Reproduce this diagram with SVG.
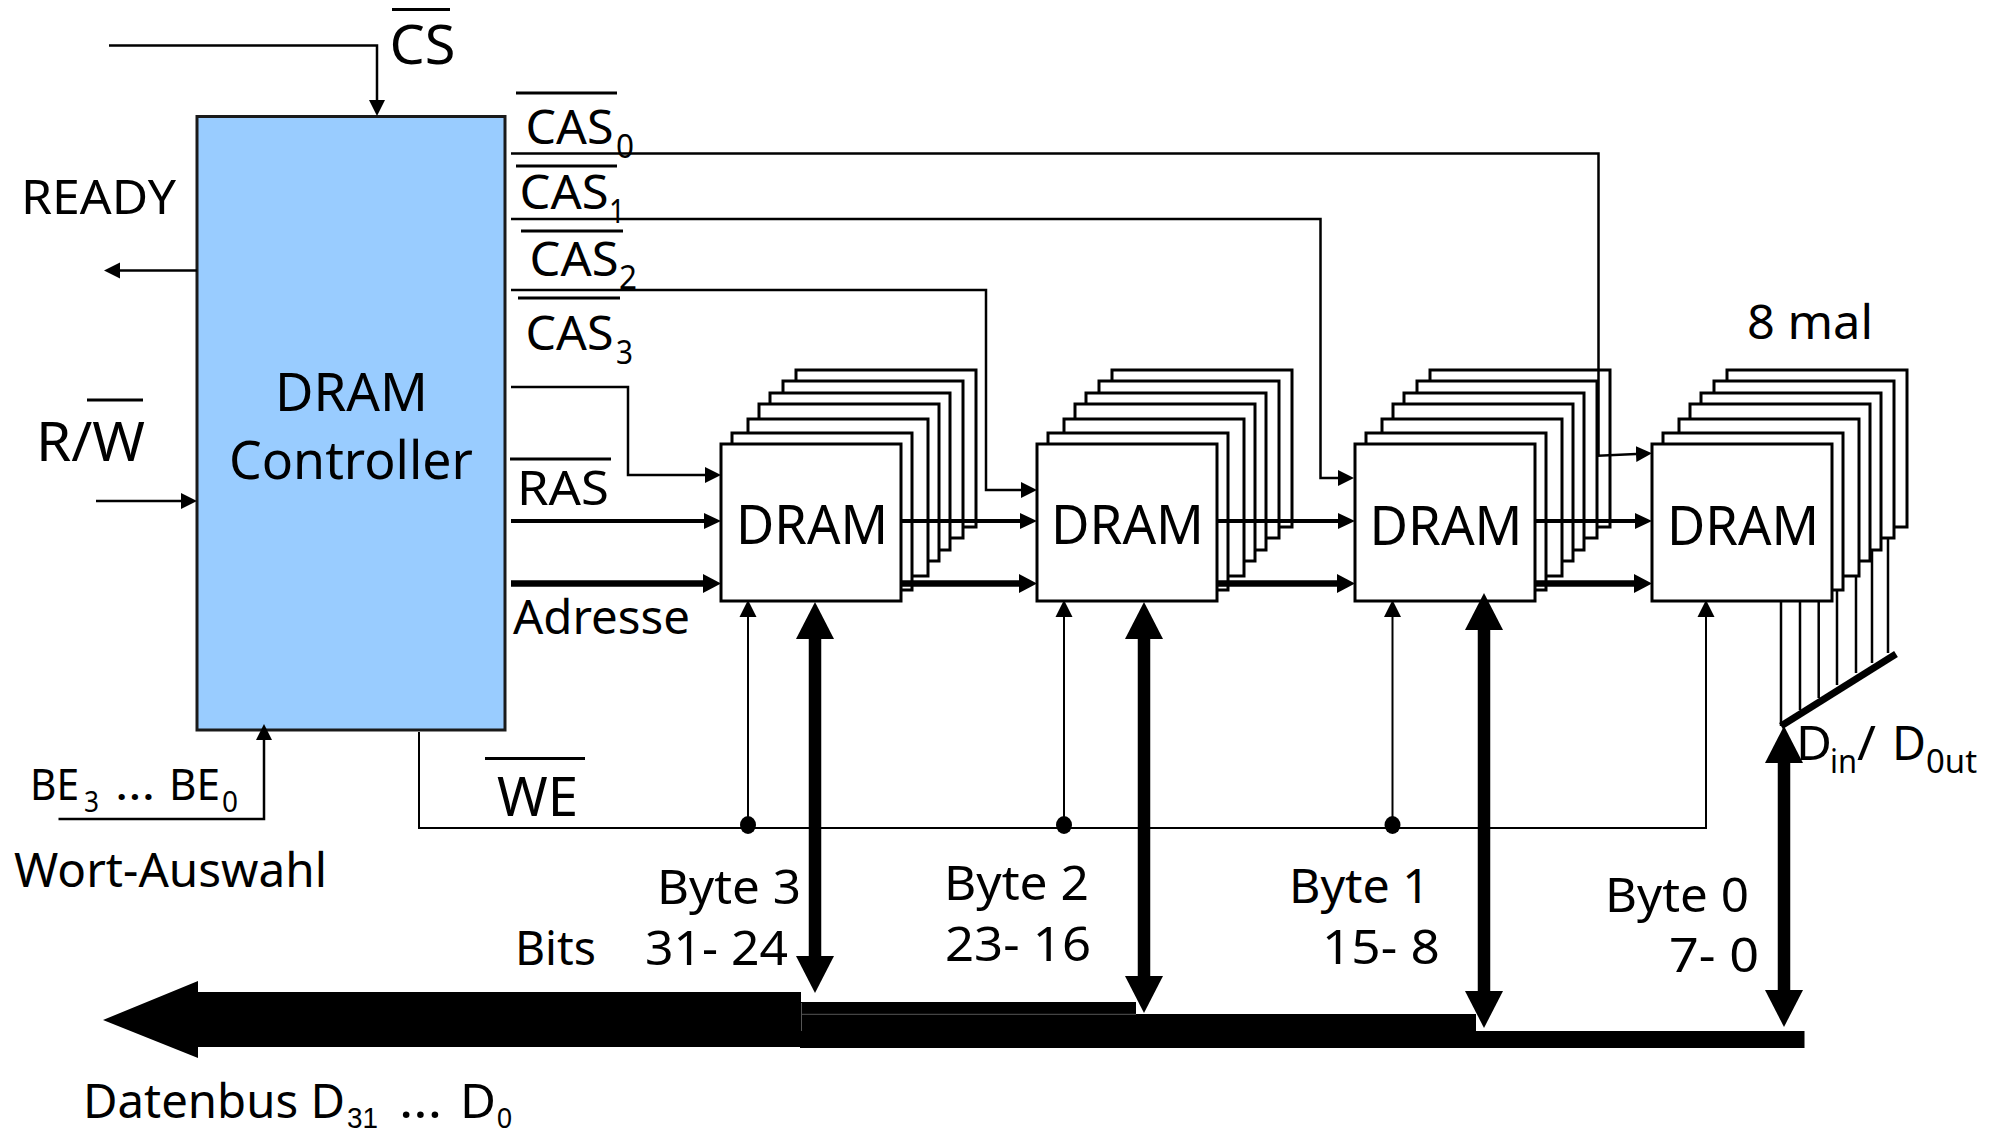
<svg xmlns="http://www.w3.org/2000/svg" width="1998" height="1134" viewBox="0 0 1998 1134">
<style>
text{font-family:"Noto Sans","Open Sans","Liberation Sans",sans-serif;fill:#000;font-size:47px}
.c{font-size:53px}.d{font-size:55px}.s{font-size:33px}.b{font-size:43px}.bs{font-size:29px}
.e{font-family:"Liberation Sans",sans-serif;font-size:30px}
rect.m{fill:#fff;stroke:#000;stroke-width:3}
#ctrl rect{fill:#99ccff;stroke:#1a1a1a;stroke-width:3}
.t,.n,.h,.w{fill:none;stroke:#000}
.t{stroke-width:2.5}.n{stroke-width:2}.h{stroke-width:4}.w{stroke-width:6.5}
.th{stroke-width:12.5;stroke:#000;fill:none}
.a{marker-end:url(#ar)}.ah{marker-end:url(#arh)}.aw{marker-end:url(#arw)}
.dbl{marker-start:url(#big);marker-end:url(#big)}
.ov{stroke:#000;stroke-width:3;fill:none}
</style>
<defs>
<marker id="ar" markerUnits="userSpaceOnUse" markerWidth="18" markerHeight="18" refX="0" refY="8" orient="auto"><path d="M0 0L16 8L0 16Z"/></marker>
<marker id="arh" markerUnits="userSpaceOnUse" markerWidth="18" markerHeight="18" refX="0" refY="8" orient="auto"><path d="M0 0L17 8L0 16Z"/></marker>
<marker id="arw" markerUnits="userSpaceOnUse" markerWidth="20" markerHeight="20" refX="0" refY="9.5" orient="auto"><path d="M0 0L18 9.5L0 19Z"/></marker>
<marker id="big" markerUnits="userSpaceOnUse" markerWidth="40" markerHeight="40" refX="0" refY="19" orient="auto-start-reverse"><path d="M0 0L37 19L0 38Z"/></marker>
<g id="stk">
<rect class="m" x="75" y="-74" width="180" height="157"/>
<rect class="m" x="62" y="-63" width="180" height="157"/>
<rect class="m" x="49" y="-51" width="180" height="157"/>
<rect class="m" x="38" y="-40" width="180" height="157"/>
<rect class="m" x="27" y="-25" width="180" height="157"/>
<rect class="m" x="11" y="-11" width="180" height="157"/>
<rect class="m" x="0" y="0" width="180" height="157"/>
</g>
</defs>
<rect width="1998" height="1134" fill="#fff"/>

<g id="ctrl">
<rect x="197" y="116.500" width="308" height="613.500"/>
<text class="c" x="275" y="411" textLength="153" lengthAdjust="spacingAndGlyphs">DRAM</text>
<text class="c" x="229" y="478.500" textLength="244" lengthAdjust="spacingAndGlyphs">Controller</text>
</g>
<g id="dram3"><use href="#stk" x="721" y="444"/><text class="d" x="736" y="544" textLength="152" lengthAdjust="spacingAndGlyphs">DRAM</text></g>
<g id="dram2"><use href="#stk" x="1037" y="444"/><text class="d" x="1051" y="544" textLength="153" lengthAdjust="spacingAndGlyphs">DRAM</text></g>
<g id="dram1"><use href="#stk" x="1355" y="444"/><text class="d" x="1369.500" y="545" textLength="153" lengthAdjust="spacingAndGlyphs">DRAM</text></g>
<g id="dram0"><use href="#stk" x="1652" y="444"/><text class="d" x="1667" y="545" textLength="152" lengthAdjust="spacingAndGlyphs">DRAM</text></g>

<g id="connectors">
<path class="t a" d="M109 45.500H377V100"/>
<path class="t a" d="M197 270.500H120"/>
<path class="t a" d="M96 501H181"/>
<path class="t a" d="M58.500 819H264V740"/>
<path class="t a" d="M511 153.600H1598.500V455.700L1636 454"/>
<path class="t a" d="M511 219H1320.500V478H1338"/>
<path class="t a" d="M511 290H986V490H1021"/>
<path class="t a" d="M511 387H628V475H705"/>
<path class="h ah" d="M511 521H704"/>
<path class="h ah" d="M901 521H1020"/>
<path class="h ah" d="M1217 521H1338"/>
<path class="h ah" d="M1535 521H1635"/>
<path class="w aw" d="M511 583.500H703"/>
<path class="w aw" d="M901 583.500H1019"/>
<path class="w aw" d="M1217 583.500H1337"/>
<path class="w aw" d="M1535 583.500H1634"/>
<path class="n" d="M419 732V828H1706V617"/>
<path class="n" d="M748 828V617"/>
<path class="n" d="M1064 828V617"/>
<path class="n" d="M1392.500 828V617"/>
<path d="M739.500 617L748 600L756.500 617Z"/>
<path d="M1055.500 617L1064 600L1072.500 617Z"/>
<path d="M1384 617L1392.500 600L1401 617Z"/>
<path d="M1697.500 617L1706 600L1714.500 617Z"/>
<ellipse cx="748" cy="825" rx="8" ry="9"/>
<ellipse cx="1064" cy="825" rx="8" ry="9"/>
<ellipse cx="1392.500" cy="825" rx="8" ry="9"/>
<path class="th dbl" d="M815 639V956"/>
<path class="th dbl" d="M1144 639V976"/>
<path class="th dbl" d="M1484 630V991"/>
<path class="th dbl" d="M1784 763V990"/>
<path class="t" d="M1781 601V726M1800 601V710M1818.700 601V698M1837 590V685M1856 576V673M1872 550V663M1888 539V653"/>
<path d="M1781 726L1896 654" stroke="#000" stroke-width="7" fill="none"/>
<path d="M103 1020L198 981V992H801V1047H198V1058Z"/>
<rect x="801" y="1002" width="335" height="12.500"/>
<rect x="801" y="1014" width="675" height="18"/>
<rect x="800" y="1031" width="1004.500" height="17"/>
<path d="M801.500 1003V1031M802 1014.300H1136" stroke="#555" stroke-width="1" fill="none"/>
</g>

<g id="labels">
<path class="ov" d="M392 9.500H450M516 93H617M516 166H617M521 231H623M518 298H620M87 400H143M510 459H611M485 758.500H585"/>
<text class="d" x="389.500" y="64" textLength="66" lengthAdjust="spacingAndGlyphs">CS</text>
<text x="21" y="214" textLength="155" lengthAdjust="spacingAndGlyphs">READY</text>
<text class="d" x="36" y="461" textLength="109" lengthAdjust="spacingAndGlyphs">R/W</text>
<text x="525.500" y="144" textLength="88" lengthAdjust="spacingAndGlyphs">CAS</text><text class="s" x="616" y="158" textLength="18" lengthAdjust="spacingAndGlyphs">0</text>
<text x="519.500" y="209" textLength="89" lengthAdjust="spacingAndGlyphs">CAS</text><text class="s" x="609" y="223" textLength="16" lengthAdjust="spacingAndGlyphs">1</text>
<text x="529.500" y="276" textLength="89" lengthAdjust="spacingAndGlyphs">CAS</text><text class="s" x="619" y="289" textLength="18" lengthAdjust="spacingAndGlyphs">2</text>
<text x="525.500" y="350" textLength="88" lengthAdjust="spacingAndGlyphs">CAS</text><text class="s" x="616" y="364" textLength="17" lengthAdjust="spacingAndGlyphs">3</text>
<text x="517" y="505" textLength="92" lengthAdjust="spacingAndGlyphs">RAS</text>
<text x="513" y="634" textLength="177" lengthAdjust="spacingAndGlyphs">Adresse</text>
<text class="d" x="497" y="816" textLength="81" lengthAdjust="spacingAndGlyphs">WE</text>
<text x="1747" y="339" textLength="126" lengthAdjust="spacingAndGlyphs">8 mal</text>
<text x="1796" y="760" textLength="36" lengthAdjust="spacingAndGlyphs">D</text><text class="s" x="1830" y="773" textLength="27" lengthAdjust="spacingAndGlyphs">in</text><text x="1857" y="760" textLength="19" lengthAdjust="spacingAndGlyphs">/</text><text x="1892" y="760" textLength="34" lengthAdjust="spacingAndGlyphs">D</text><text class="s" x="1926" y="773" textLength="51" lengthAdjust="spacingAndGlyphs">0ut</text>
<text class="b" x="30" y="800" textLength="49" lengthAdjust="spacingAndGlyphs">BE</text><text class="bs" x="84" y="812" textLength="15" lengthAdjust="spacingAndGlyphs">3</text><text class="b" x="115" y="800" textLength="40" lengthAdjust="spacingAndGlyphs">...</text><text class="b" x="169" y="800" textLength="51" lengthAdjust="spacingAndGlyphs">BE</text><text class="bs" x="222" y="812" textLength="16" lengthAdjust="spacingAndGlyphs">0</text>
<text x="14" y="887" textLength="313" lengthAdjust="spacingAndGlyphs">Wort-Auswahl</text>
<text x="657" y="904" textLength="144" lengthAdjust="spacingAndGlyphs">Byte 3</text>
<text x="515" y="965" textLength="81" lengthAdjust="spacingAndGlyphs">Bits</text>
<text x="645" y="965" textLength="143" lengthAdjust="spacingAndGlyphs">31- 24</text>
<text x="944" y="900" textLength="145" lengthAdjust="spacingAndGlyphs">Byte 2</text>
<text x="945" y="961" textLength="146" lengthAdjust="spacingAndGlyphs">23- 16</text>
<text x="1289" y="903" textLength="141" lengthAdjust="spacingAndGlyphs">Byte 1</text>
<text x="1322" y="964" textLength="118" lengthAdjust="spacingAndGlyphs">15- 8</text>
<text x="1605" y="912" textLength="144" lengthAdjust="spacingAndGlyphs">Byte 0</text>
<text x="1669" y="972" textLength="90" lengthAdjust="spacingAndGlyphs">7- 0</text>
<text x="83" y="1118" textLength="262" lengthAdjust="spacingAndGlyphs">Datenbus D</text><text class="e" x="347" y="1128" textLength="31" lengthAdjust="spacingAndGlyphs">31</text><text x="399" y="1118" textLength="43" lengthAdjust="spacingAndGlyphs">...</text><text x="460" y="1118" textLength="36" lengthAdjust="spacingAndGlyphs">D</text><text class="e" x="497" y="1128" textLength="15" lengthAdjust="spacingAndGlyphs">0</text>
</g>
</svg>
